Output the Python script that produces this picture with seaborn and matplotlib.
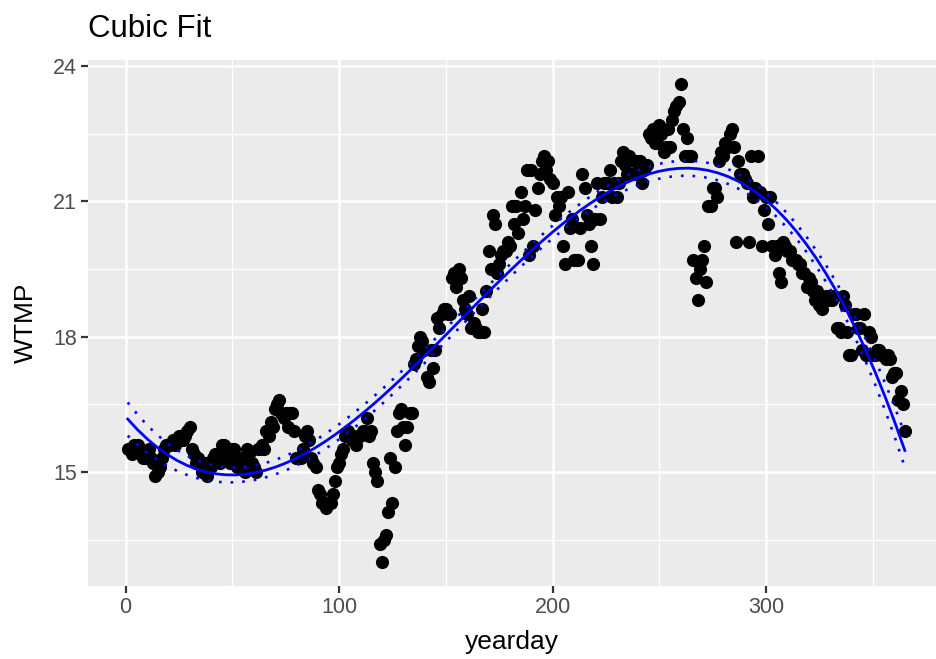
import numpy as np
import pandas as pd
import matplotlib
matplotlib.use("Agg")
import matplotlib.pyplot as plt
from matplotlib.ticker import FixedLocator
import seaborn as sns

# ---- data ----
wtmp_q1 = [15.5, 15.5, 15.4, 15.6, 15.5, 15.6, 15.4, 15.3, 15.3, 15.4,
           15.5, 15.3, 15.2, 14.9, 15.0, 15.1, 15.3, 15.5, 15.6, 15.6,
           15.6, 15.7, 15.6, 15.7, 15.8, 15.8, 15.7, 15.8, 15.9, 16.0,
           15.5, 15.4, 15.2, 15.3, 15.2, 15.0, 15.2, 14.9, 15.2, 15.1,
           15.3, 15.4, 15.4, 15.2, 15.6, 15.6, 15.4, 15.3, 15.2, 15.5,
           15.5, 15.1, 15.3, 15.2, 15.1, 15.0, 15.5, 15.4, 15.2, 15.1,
           15.0, 15.5, 15.5, 15.6, 15.5, 15.9, 15.8, 16.1, 16.0, 16.4,
           16.5, 16.6, 16.3, 16.2, 16.3, 16.0, 16.3, 16.3, 15.9, 15.3,
           15.3, 15.3, 15.5, 15.8, 15.9, 15.7, 15.3, 15.2, 15.1, 14.6]
wtmp_q2 = [14.5, 14.3, 14.3, 14.2, 14.3, 14.3, 14.5, 14.8, 15.1, 15.2,
           15.4, 15.5, 15.8, 15.9, 15.8, 15.7, 15.8, 15.6, 15.8, 15.8,
           15.9, 15.9, 16.2, 15.8, 15.9, 15.2, 15.0, 14.8, 13.4, 13.0,
           13.5, 13.6, 14.1, 15.3, 14.3, 15.1, 15.9, 16.3, 16.4, 16.0,
           15.6, 16.0, 16.3, 16.3, 17.4, 17.5, 17.8, 18.0, 17.9, 17.7,
           17.1, 17.0, 17.7, 17.3, 17.7, 18.4, 18.2, 18.5, 18.6, 18.6,
           18.5, 18.5, 19.3, 19.4, 19.1, 19.5, 19.3, 18.8, 18.6, 18.5,
           18.9, 18.2, 18.3, 18.2, 18.1, 18.1, 18.6, 18.1, 19.0, 19.9,
           19.5, 20.7, 20.5, 19.4, 19.6, 19.8, 19.9, 19.9, 20.1, 20.0]
wtmp_q3 = [20.9, 20.5, 20.9, 20.3, 21.2, 20.6, 20.9, 21.7, 19.8, 21.7,
           20.0, 20.8, 21.3, 21.6, 21.9, 22.0, 21.7, 21.9, 21.5, 21.4,
           20.7, 21.1, 20.9, 21.1, 20.0, 19.6, 21.2, 20.4, 20.6, 19.7,
           19.7, 19.7, 20.4, 21.6, 21.3, 20.7, 20.5, 20.0, 19.6, 20.6,
           21.4, 20.6, 21.1, 21.4, 21.4, 21.4, 21.7, 21.1, 21.4, 21.1,
           21.4, 21.9, 22.1, 21.8, 21.6, 22.0, 21.6, 21.6, 21.9, 21.8,
           21.9, 21.4, 21.7, 21.8, 22.5, 22.4, 22.6, 22.3, 22.3, 22.7,
           22.5, 22.1, 22.2, 22.6, 22.2, 22.8, 23.0, 23.1, 23.2, 23.6,
           22.6, 22.0, 22.4, 22.0, 22.0, 19.7, 19.3, 18.8, 19.5, 19.7]
wtmp_q4 = [20.0, 19.2, 20.9, 20.9, 21.3, 21.3, 21.1, 21.9, 22.1, 22.0,
           22.3, 22.2, 22.5, 22.6, 22.2, 20.1, 21.9, 21.6, 21.6, 21.5,
           21.4, 20.1, 22.0, 21.1, 21.3, 22.0, 21.2, 20.0, 20.8, 21.1,
           20.5, 21.1, 20.0, 19.8, 20.0, 19.4, 19.2, 20.1, 20.0, 19.9,
           19.9, 19.7, 19.7, 19.7, 19.6, 19.6, 19.4, 19.4, 19.1, 19.3,
           19.2, 19.0, 18.8, 19.0, 18.7, 18.6, 18.8, 18.9, 18.8, 18.9,
           18.8, 18.9, 18.2, 18.2, 18.1, 18.9, 18.7, 18.1, 17.6, 17.6,
           18.5, 18.5, 18.2, 18.2, 17.7, 18.5, 17.6, 18.1, 18.0, 17.6,
           17.6, 17.7, 17.7, 17.6, 17.6, 17.5, 17.6, 17.5, 17.1, 17.2,
           17.2, 16.6, 16.8, 16.5, 15.9]

wtmp = wtmp_q1 + wtmp_q2 + wtmp_q3 + wtmp_q4
yearday = list(range(1, len(wtmp) + 1))

x_ticks = [0, 100, 200, 300]
y_ticks = [15, 18, 21, 24]
title = "Cubic Fit"

df = pd.DataFrame({"yearday": yearday, "WTMP": wtmp})

# ---- cubic fit with 95% confidence band ----
xv = df["yearday"].to_numpy(float)
yv = df["WTMP"].to_numpy(float)
X = np.vander(xv, 4)
beta, *_ = np.linalg.lstsq(X, yv, rcond=None)
resid = yv - X @ beta
n = len(xv)
s2 = (resid ** 2).sum() / (n - 4)
cov = s2 * np.linalg.inv(X.T @ X)
grid = np.linspace(xv.min(), xv.max(), 80)
Xg = np.vander(grid, 4)
fit = Xg @ beta
se = np.sqrt(np.sum((Xg @ cov) * Xg, axis=1))
tval = 1.967
fit_df = pd.DataFrame({"yearday": grid, "fit": fit,
                       "lo": fit - tval * se, "hi": fit + tval * se})

# ---- figure ----
plt.rcParams["font.family"] = ["Liberation Sans", "DejaVu Sans"]
W, H = 936, 659
fig = plt.figure(figsize=(W / 100, H / 100), dpi=100)
ax = fig.add_axes([88 / W, 1 - 586 / H, 1 - 88 / W, (586 - 60) / H])
ax.set_facecolor("#EBEBEB")
for s in ax.spines.values():
    s.set_visible(False)

sns.scatterplot(data=df, x="yearday", y="WTMP", color="black", s=90,
                linewidth=0, ax=ax, zorder=3)
sns.lineplot(data=fit_df, x="yearday", y="fit", color="blue", lw=2.0,
             ax=ax, zorder=4)
sns.lineplot(data=fit_df, x="yearday", y="lo", color="blue", lw=1.9,
             linestyle=(0, (1, 3.4)), ax=ax, zorder=4)
sns.lineplot(data=fit_df, x="yearday", y="hi", color="blue", lw=1.9,
             linestyle=(0, (1, 3.4)), ax=ax, zorder=4)

ax.set_xlim(-17.6, 379.6)
ax.set_ylim(12.47, 24.13)
ax.xaxis.set_major_locator(FixedLocator(x_ticks))
ax.yaxis.set_major_locator(FixedLocator(y_ticks))
ax.xaxis.set_minor_locator(FixedLocator([-50, 50, 150, 250, 350]))
ax.yaxis.set_minor_locator(FixedLocator([13.5, 16.5, 19.5, 22.5]))
ax.set_axisbelow(True)
ax.grid(which="major", color="white", lw=1.8)
ax.grid(which="minor", color="white", lw=0.9)
ax.tick_params(which="major", length=5, width=1.6, color="#333333",
               labelcolor="#4D4D4D", labelsize=15.5, pad=3)
ax.tick_params(which="minor", length=0)
ax.set_xlabel("")
ax.set_ylabel("")

fig.text(88 / W, 1 - 37 / H, title, fontsize=22.5, color="black",
         ha="left", va="baseline")
fig.text(512 / W, 1 - 649 / H, "yearday", fontsize=19, color="black",
         ha="center", va="baseline")
fig.text(26 / W, 1 - 323 / H, "WTMP", fontsize=19, color="black",
         ha="center", va="center", rotation=90)

fig.savefig("out.png", dpi=100)
